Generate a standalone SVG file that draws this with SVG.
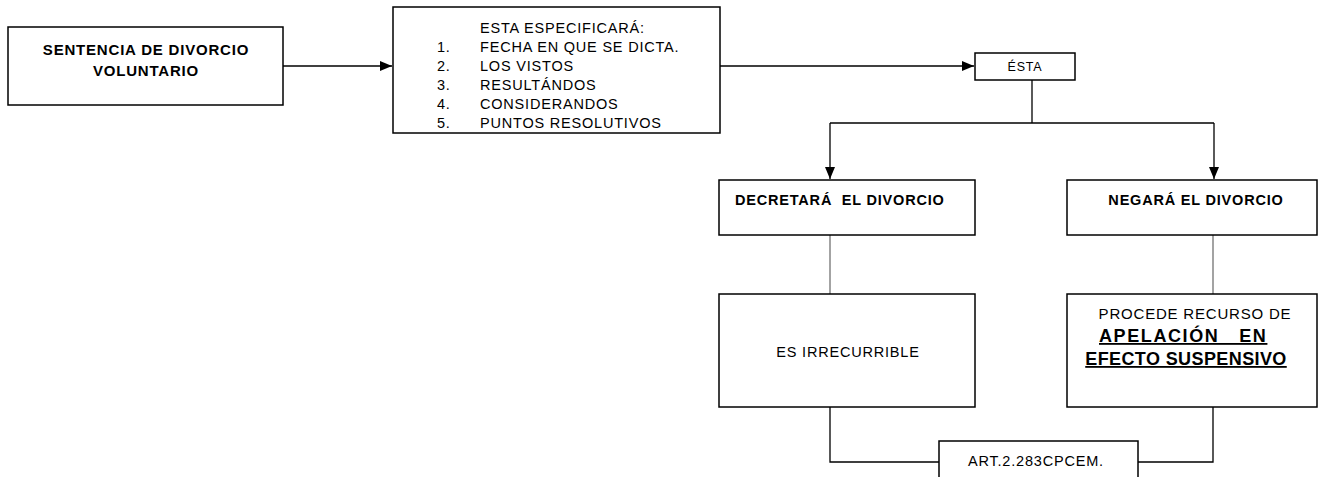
<svg xmlns="http://www.w3.org/2000/svg" width="1326" height="477" viewBox="0 0 1326 477">
<style>
.box{fill:#fff;stroke:#000;stroke-width:1.5}
.t{font-family:"Liberation Sans",Arial,sans-serif;fill:#000;letter-spacing:0.8px}
.b{font-weight:bold}
.c{fill:none;stroke:#000;stroke-width:1.3}
.g{fill:none;stroke:#666;stroke-width:1.2}
</style>
<defs>
<marker id="ah" viewBox="0 0 12 10" refX="12" refY="5" markerWidth="12" markerHeight="10" markerUnits="userSpaceOnUse" orient="auto">
<path d="M0,0 L12,5 L0,10 z" fill="#000"/>
</marker>
</defs>
<rect width="1326" height="477" fill="#fff"/>
<g id="connectors">
<line class="c" x1="283" y1="66" x2="392" y2="66" marker-end="url(#ah)"/>
<line class="c" x1="720" y1="66" x2="974" y2="66" marker-end="url(#ah)"/>
<line class="c" x1="1032" y1="80" x2="1032" y2="123"/>
<polyline class="c" points="830,123 1214,123"/>
<line class="c" x1="830" y1="123" x2="830" y2="179" marker-end="url(#ah)"/>
<line class="c" x1="1214" y1="123" x2="1214" y2="179" marker-end="url(#ah)"/>
<line class="g" x1="830" y1="235" x2="830" y2="294"/>
<line class="g" x1="1213" y1="235" x2="1213" y2="294"/>
<polyline class="c" points="830,407 830,462 939,462"/>
<polyline class="c" points="1213,407 1213,462 1138,462"/>
</g>
<g id="n1">
<rect class="box" x="8" y="27" width="275" height="78"/>
<text class="t b" font-size="15" text-anchor="middle" x="146" y="55">SENTENCIA DE DIVORCIO</text>
<text class="t b" font-size="15" text-anchor="middle" x="146" y="76">VOLUNTARIO</text>
</g>
<g id="n2">
<rect class="box" x="393" y="7" width="327" height="126"/>
<g class="t" font-size="14.5">
<text x="480" y="33">ESTA ESPECIFICARÁ:</text>
<text x="437" y="52">1.</text><text x="480" y="52">FECHA EN QUE SE DICTA.</text>
<text x="437" y="71">2.</text><text x="480" y="71">LOS VISTOS</text>
<text x="437" y="90">3.</text><text x="480" y="90">RESULTÁNDOS</text>
<text x="437" y="109">4.</text><text x="480" y="109">CONSIDERANDOS</text>
<text x="437" y="128">5.</text><text x="480" y="128">PUNTOS RESOLUTIVOS</text>
</g>
</g>
<g id="n3">
<rect class="box" x="975" y="53" width="100" height="27"/>
<text class="t" font-size="12.5" text-anchor="middle" x="1025" y="71">ÉSTA</text>
</g>
<g id="n4">
<rect class="box" x="719" y="180" width="256" height="55"/>
<text class="t b" font-size="14.5" x="735" y="205" xml:space="preserve">DECRETARÁ  EL DIVORCIO</text>
</g>
<g id="n5">
<rect class="box" x="1067" y="180" width="250" height="55"/>
<text class="t b" font-size="14.5" text-anchor="middle" x="1196" y="205">NEGARÁ EL DIVORCIO</text>
</g>
<g id="n6">
<rect class="box" x="719" y="294" width="256" height="113"/>
<text class="t" font-size="14.5" text-anchor="middle" x="848" y="357">ES IRRECURRIBLE</text>
</g>
<g id="n7">
<rect class="box" x="1067" y="294" width="250" height="113"/>
<text class="t" font-size="15" text-anchor="middle" x="1195" y="319">PROCEDE RECURSO DE</text>
<text class="t b" font-size="18" x="1099" y="342" text-decoration="underline" style="letter-spacing:1.6px" xml:space="preserve">APELACIÓN   EN</text>
<text class="t b" font-size="18" text-anchor="middle" x="1186" y="365" text-decoration="underline" style="letter-spacing:0.4px">EFECTO SUSPENSIVO</text>
</g>
<g id="n8">
<rect class="box" x="939" y="441" width="199" height="45"/>
<text class="t" font-size="14.5" x="968" y="466">ART.2.283CPCEM.</text>
</g>
</svg>
